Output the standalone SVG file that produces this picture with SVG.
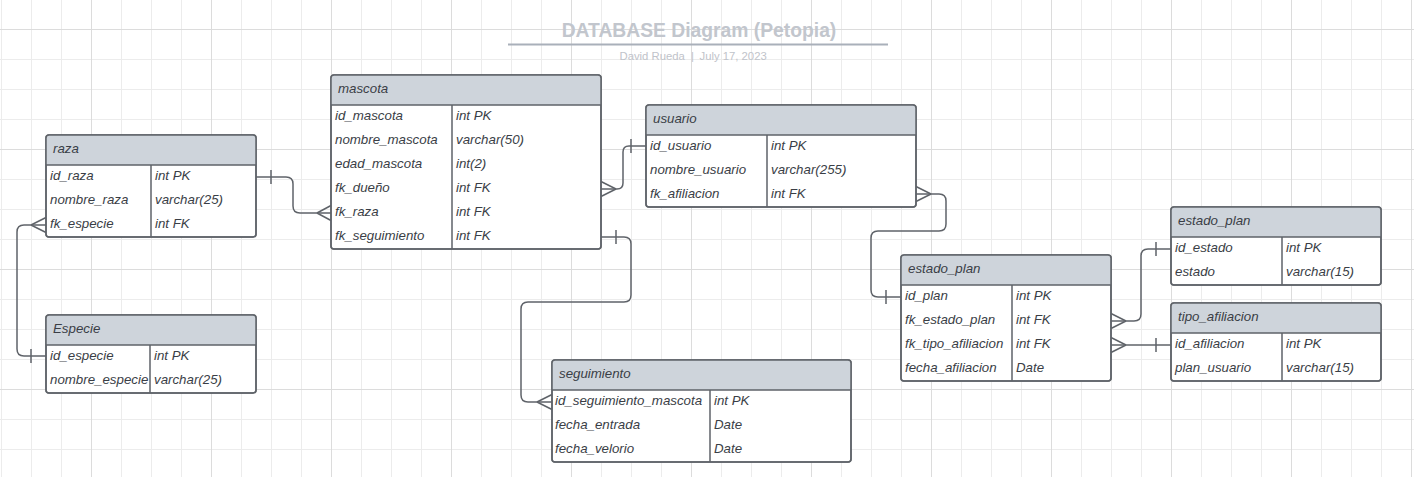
<svg xmlns="http://www.w3.org/2000/svg" width="1414" height="477" viewBox="0 0 1414 477">
<style>
.tbl{fill:#ffffff;stroke:#5f6369;stroke-width:1.5}
.out{fill:none;stroke:#5f6369;stroke-width:1.5}
.hdr{fill:#ced4db}
.ln{stroke:#5f6369;stroke-width:1.5;fill:none}
.t{font-family:"Liberation Sans",Arial,sans-serif;font-size:13.3px;font-style:italic;fill:#3a3e46}
.con{fill:none;stroke:#5f6369;stroke-width:1.5;stroke-linejoin:round}
.title{font-family:"Liberation Sans",Arial,sans-serif;font-size:19.3px;font-weight:bold;fill:#c2c6cd}
.sub{font-family:"Liberation Sans",Arial,sans-serif;font-size:11.3px;fill:#bfc3ca}
</style>
<defs>
<pattern id="grid" patternUnits="userSpaceOnUse" x="91" y="29" width="120" height="120">
<path d="M30.5,0V120M60.5,0V120M90.5,0V120M0,30.5H120M0,60.5H120M0,90.5H120" stroke="#ececec" stroke-width="1" fill="none"/>
<path d="M0.5,0V120M0,0.5H120" stroke="#dcdcdc" stroke-width="1" fill="none"/>
</pattern>
</defs>
<rect x="0" y="0" width="1414" height="477" fill="#ffffff"/>
<rect x="0" y="0" width="1414" height="477" fill="url(#grid)"/>

<g id="title">
<text class="title" x="699" y="37" text-anchor="middle">DATABASE Diagram (Petopia)</text>
<line x1="508" y1="44.5" x2="888" y2="44.5" stroke="#a9b0ba" stroke-width="2"/>
<text class="sub" y="60"><tspan x="619.5">David Rueda</tspan><tspan x="691">|</tspan><tspan x="699.5">July 17, 2023</tspan></text>
</g>

<g id="connectors">
<!-- raza -> mascota -->
<path class="con" d="M256,177 H286 Q293,177 293,184 V206 Q293,213 300,213 H331"/>
<path class="con" d="M271,170 V184 M317,213 L331,205.5 M317,213 L331,220.5"/>
<!-- especie -> raza -->
<path class="con" d="M46,225 H24 Q17,225 17,232 V349 Q17,356 24,356 H46"/>
<path class="con" d="M31,225 L46,217.5 M31,225 L46,232.5 M31,349 V363"/>
<!-- mascota -> usuario -->
<path class="con" d="M601,189 H617 Q623,189 623,183 V152 Q623,146 629,146 H646"/>
<path class="con" d="M616,189 L601,181.5 M616,189 L601,196.5 M631,139 V153"/>
<!-- mascota -> seguimiento -->
<path class="con" d="M601,237 H624 Q631,237 631,244 V295 Q631,302 624,302 H528 Q521,302 521,309 V395 Q521,402 528,402 H552"/>
<path class="con" d="M616,230 V244 M537,402 L552,394.5 M537,402 L552,409.5"/>
<!-- usuario -> estado_plan -->
<path class="con" d="M916,194 H939 Q946,194 946,201 V224 Q946,231 939,231 H878 Q871,231 871,238 V290 Q871,297 878,297 H901"/>
<path class="con" d="M931,194 L916,186.5 M931,194 L916,201.5 M886,290 V304"/>
<!-- estado_plan -> estado_plan (right) -->
<path class="con" d="M1111,321 H1134 Q1141,321 1141,314 V256 Q1141,249 1148,249 H1171"/>
<path class="con" d="M1126,321 L1111,313.5 M1126,321 L1111,328.5 M1156,242 V256"/>
<!-- estado_plan -> tipo_afiliacion -->
<path class="con" d="M1111,345 H1171"/>
<path class="con" d="M1126,345 L1111,337.5 M1126,345 L1111,352.5 M1156,338 V352"/>
</g>

<g id="raza">
<rect class="tbl" x="46" y="135" width="210" height="102" rx="3"/>
<path class="hdr" d="M49,135 H253 Q256,135 256,138 V165 H46 V138 Q46,135 49,135 Z"/>
<path class="ln" d="M46,165 H256 M151,165 V237"/>
<rect class="out" x="46" y="135" width="210" height="102" rx="3"/>
<text class="t" x="53" y="153">raza</text>
<text class="t" x="50" y="180">id_raza</text><text class="t" x="155" y="180">int PK</text>
<text class="t" x="50" y="204">nombre_raza</text><text class="t" x="155" y="204">varchar(25)</text>
<text class="t" x="50" y="228">fk_especie</text><text class="t" x="155" y="228">int FK</text>
</g>

<g id="especie">
<rect class="tbl" x="46" y="315" width="210" height="78" rx="3"/>
<path class="hdr" d="M49,315 H253 Q256,315 256,318 V345 H46 V318 Q46,315 49,315 Z"/>
<path class="ln" d="M46,345 H256 M150,345 V393"/>
<rect class="out" x="46" y="315" width="210" height="78" rx="3"/>
<text class="t" x="53" y="333">Especie</text>
<text class="t" x="50" y="360">id_especie</text><text class="t" x="154" y="360">int PK</text>
<text class="t" x="50" y="384">nombre_especie</text><text class="t" x="154" y="384">varchar(25)</text>
</g>

<g id="mascota">
<rect class="tbl" x="331" y="75" width="270" height="174" rx="3"/>
<path class="hdr" d="M334,75 H598 Q601,75 601,78 V105 H331 V78 Q331,75 334,75 Z"/>
<path class="ln" d="M331,105 H601 M452,105 V249"/>
<rect class="out" x="331" y="75" width="270" height="174" rx="3"/>
<text class="t" x="338" y="93">mascota</text>
<text class="t" x="335" y="120">id_mascota</text><text class="t" x="456" y="120">int PK</text>
<text class="t" x="335" y="144">nombre_mascota</text><text class="t" x="456" y="144">varchar(50)</text>
<text class="t" x="335" y="168">edad_mascota</text><text class="t" x="456" y="168">int(2)</text>
<text class="t" x="335" y="192">fk_dueño</text><text class="t" x="456" y="192">int FK</text>
<text class="t" x="335" y="216">fk_raza</text><text class="t" x="456" y="216">int FK</text>
<text class="t" x="335" y="240">fk_seguimiento</text><text class="t" x="456" y="240">int FK</text>
</g>

<g id="usuario">
<rect class="tbl" x="646" y="105" width="270" height="102" rx="3"/>
<path class="hdr" d="M649,105 H913 Q916,105 916,108 V135 H646 V108 Q646,105 649,105 Z"/>
<path class="ln" d="M646,135 H916 M767,135 V207"/>
<rect class="out" x="646" y="105" width="270" height="102" rx="3"/>
<text class="t" x="653" y="123">usuario</text>
<text class="t" x="650" y="150">id_usuario</text><text class="t" x="771" y="150">int PK</text>
<text class="t" x="650" y="174">nombre_usuario</text><text class="t" x="771" y="174">varchar(255)</text>
<text class="t" x="650" y="198">fk_afiliacion</text><text class="t" x="771" y="198">int FK</text>
</g>

<g id="seguimiento">
<rect class="tbl" x="552" y="360" width="299" height="102" rx="3"/>
<path class="hdr" d="M555,360 H848 Q851,360 851,363 V390 H552 V363 Q552,360 555,360 Z"/>
<path class="ln" d="M552,390 H851 M710,390 V462"/>
<rect class="out" x="552" y="360" width="299" height="102" rx="3"/>
<text class="t" x="559" y="378">seguimiento</text>
<text class="t" x="555" y="405">id_seguimiento_mascota</text><text class="t" x="714" y="405">int PK</text>
<text class="t" x="555" y="429">fecha_entrada</text><text class="t" x="714" y="429">Date</text>
<text class="t" x="555" y="453">fecha_velorio</text><text class="t" x="714" y="453">Date</text>
</g>

<g id="estado_plan_main">
<rect class="tbl" x="901" y="255" width="210" height="126" rx="3"/>
<path class="hdr" d="M904,255 H1108 Q1111,255 1111,258 V285 H901 V258 Q901,255 904,255 Z"/>
<path class="ln" d="M901,285 H1111 M1012,285 V381"/>
<rect class="out" x="901" y="255" width="210" height="126" rx="3"/>
<text class="t" x="908" y="273">estado_plan</text>
<text class="t" x="905" y="300">id_plan</text><text class="t" x="1016" y="300">int PK</text>
<text class="t" x="905" y="324">fk_estado_plan</text><text class="t" x="1016" y="324">int FK</text>
<text class="t" x="905" y="348">fk_tipo_afiliacion</text><text class="t" x="1016" y="348">int FK</text>
<text class="t" x="905" y="372">fecha_afiliacion</text><text class="t" x="1016" y="372">Date</text>
</g>

<g id="estado_plan_ref">
<rect class="tbl" x="1171" y="207" width="210" height="78" rx="3"/>
<path class="hdr" d="M1174,207 H1378 Q1381,207 1381,210 V237 H1171 V210 Q1171,207 1174,207 Z"/>
<path class="ln" d="M1171,237 H1381 M1282,237 V285"/>
<rect class="out" x="1171" y="207" width="210" height="78" rx="3"/>
<text class="t" x="1178" y="225">estado_plan</text>
<text class="t" x="1175" y="252">id_estado</text><text class="t" x="1286" y="252">int PK</text>
<text class="t" x="1175" y="276">estado</text><text class="t" x="1286" y="276">varchar(15)</text>
</g>

<g id="tipo_afiliacion">
<rect class="tbl" x="1171" y="303" width="210" height="78" rx="3"/>
<path class="hdr" d="M1174,303 H1378 Q1381,303 1381,306 V333 H1171 V306 Q1171,303 1174,303 Z"/>
<path class="ln" d="M1171,333 H1381 M1282,333 V381"/>
<rect class="out" x="1171" y="303" width="210" height="78" rx="3"/>
<text class="t" x="1178" y="321">tipo_afiliacion</text>
<text class="t" x="1175" y="348">id_afiliacion</text><text class="t" x="1286" y="348">int PK</text>
<text class="t" x="1175" y="372">plan_usuario</text><text class="t" x="1286" y="372">varchar(15)</text>
</g>
</svg>
